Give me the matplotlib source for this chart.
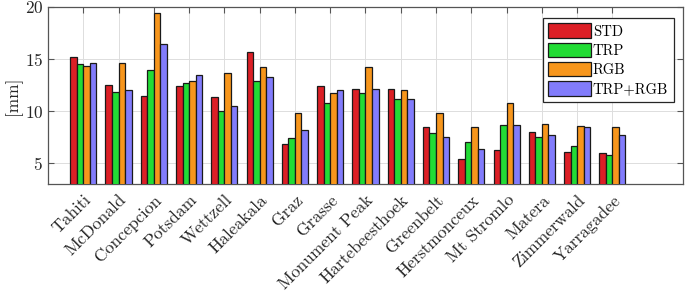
import numpy as np
import matplotlib
matplotlib.use('Agg')
import matplotlib.pyplot as plt
import matplotlib.transforms as mtransforms

plt.rcParams['font.family'] = ['cmr10', 'DejaVu Serif']
plt.rcParams['axes.formatter.use_mathtext'] = True

stations = ['Tahiti', 'McDonald', 'Concepcion', 'Potsdam', 'Wettzell', 'Haleakala',
            'Graz', 'Grasse', 'Monument Peak', 'Hartebeesthoek', 'Greenbelt',
            'Herstmonceux', 'Mt Stromlo', 'Matera', 'Zimmerwald', 'Yarragadee']

std = [15.2, 12.5, 11.4, 12.4, 11.35, 15.7, 6.8, 12.4, 12.1, 12.15, 8.5, 5.35, 6.3, 8.0, 6.1, 6.0]
trp = [14.5, 11.8, 13.9, 12.65, 10.05, 12.9, 7.4, 10.8, 11.75, 11.2, 7.85, 7.0, 8.7, 7.55, 6.6, 5.8]
rgb = [14.35, 14.65, 19.4, 12.9, 13.7, 14.2, 9.8, 11.75, 14.25, 12.0, 9.8, 8.5, 10.75, 8.8, 8.6, 8.5]
trp_rgb = [14.6, 12.0, 16.45, 13.45, 10.45, 13.3, 8.2, 12.0, 12.1, 11.2, 7.55, 6.4, 8.65, 7.7, 8.45, 7.7]

series = [std, trp, rgb, trp_rgb]
names = ['STD', 'TRP', 'RGB', 'TRP+RGB']
colors = ['#dc1f26', '#22dc35', '#f7961c', '#827cfc']

fig = plt.figure(figsize=(6.85, 2.91), dpi=100)
ax = fig.add_axes([0.070, 0.368, 0.927, 0.608])

x = np.arange(1, len(stations) + 1)
w = 0.185
for i, (vals, name, c) in enumerate(zip(series, names, colors)):
    ax.bar(x + (i - 1.5) * w, vals, width=w, color=c, edgecolor='#1a1a1a',
           linewidth=0.9, label=name, zorder=3)

ax.set_xlim(0, 18)
ax.set_ylim(3, 20)
ax.set_yticks([5, 10, 15, 20])
ax.set_xticks(x)
ax.set_xticklabels(stations, rotation=45, ha='right', rotation_mode='anchor',
                   fontsize=12.5, color='#262626')
# shift rotated labels a bit right, like the original
offset = mtransforms.ScaledTranslation(9 / 100, 0, fig.dpi_scale_trans)
for lab in ax.get_xticklabels():
    lab.set_transform(lab.get_transform() + offset)
ax.tick_params(axis='y', labelsize=12.5, colors='#262626')
ax.tick_params(direction='in', top=True, right=True, length=4, width=0.8,
               color='#555555')
ax.tick_params(axis='x', pad=6)
ax.set_ylabel('[mm]', fontsize=12.5, color='#262626', labelpad=2)
ax.grid(True, color='#dddddd', linewidth=0.7, zorder=0)
ax.set_axisbelow(True)
for s in ax.spines.values():
    s.set_color('#555555')
    s.set_linewidth(0.9)

leg = ax.legend(loc='upper right', bbox_to_anchor=(0.986, 0.94), fontsize=10.5,
                fancybox=False, framealpha=1, edgecolor='#262626',
                handlelength=2.9, handleheight=1.15, handletextpad=0.15,
                labelspacing=0.28, borderpad=0.4, borderaxespad=0)
leg.get_frame().set_linewidth(0.9)

fig.savefig('out.png', dpi=100)
